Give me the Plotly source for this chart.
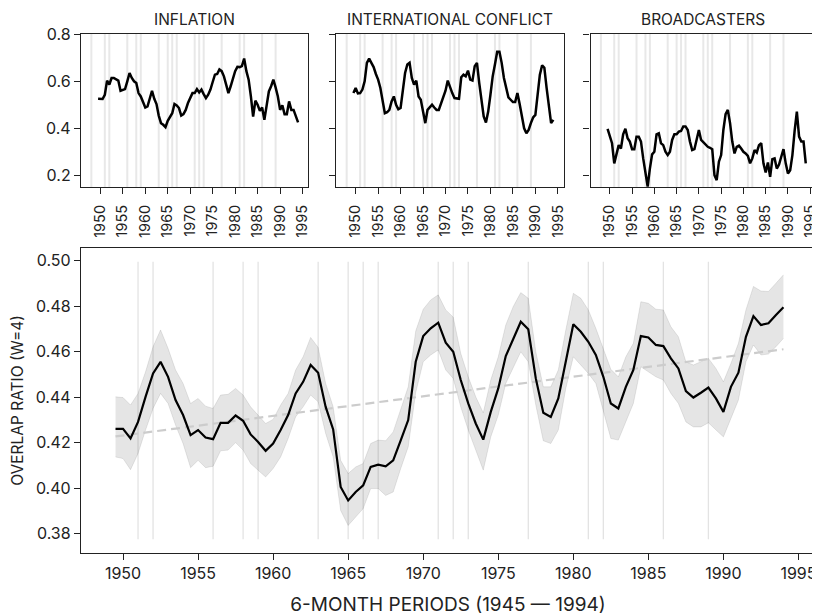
import numpy as np
import plotly.graph_objects as go

# ---------------- data ----------------
periods = [1949.5 + 0.5 * i for i in range(90)]  # 6-month periods

overlap_mean = [
    0.4260, 0.4260, 0.4218, 0.4291, 0.4401, 0.4504, 0.4555, 0.4489, 0.4387, 0.4321,
    0.4233, 0.4255, 0.4222, 0.4215, 0.4287, 0.4287, 0.4319, 0.4296, 0.4236, 0.4203,
    0.4164, 0.4196, 0.4255, 0.4321, 0.4416, 0.4467, 0.4541, 0.4507, 0.4357, 0.4258,
    0.4005, 0.3946, 0.3983, 0.4012, 0.4093, 0.4103, 0.4096, 0.4122, 0.4210, 0.4299,
    0.4555, 0.4668, 0.4702, 0.4727, 0.4639, 0.4599, 0.4475, 0.4372, 0.4284, 0.4213,
    0.4335, 0.4438, 0.4580, 0.4658, 0.4731, 0.4698, 0.4482, 0.4331, 0.4313, 0.4394,
    0.4563, 0.4720, 0.4687, 0.4643, 0.4585, 0.4489, 0.4372, 0.4350, 0.4445, 0.4519,
    0.4668, 0.4662, 0.4629, 0.4624, 0.4570, 0.4526, 0.4426, 0.4398, 0.4419, 0.4442,
    0.4394, 0.4335, 0.4445, 0.4507, 0.4665, 0.4756, 0.4717, 0.4724, 0.4761, 0.4795,
]
overlap_upper = [
    0.4401, 0.4398, 0.4365, 0.4416, 0.4511, 0.4621, 0.4695, 0.4614, 0.4519, 0.4460,
    0.4372, 0.4394, 0.4360, 0.4350, 0.4409, 0.4412, 0.4438, 0.4409, 0.4357, 0.4321,
    0.4284, 0.4302, 0.4365, 0.4416, 0.4519, 0.4577, 0.4662, 0.4618, 0.4460, 0.4357,
    0.4122, 0.4064, 0.4093, 0.4108, 0.4196, 0.4211, 0.4208, 0.4247, 0.4343, 0.4445,
    0.4690, 0.4786, 0.4827, 0.4849, 0.4783, 0.4751, 0.4592, 0.4489, 0.4401, 0.4331,
    0.4475, 0.4577, 0.4717, 0.4798, 0.4859, 0.4834, 0.4599, 0.4445, 0.4445, 0.4519,
    0.4695, 0.4856, 0.4834, 0.4783, 0.4702, 0.4607, 0.4522, 0.4489, 0.4577, 0.4636,
    0.4819, 0.4812, 0.4786, 0.4783, 0.4709, 0.4665, 0.4555, 0.4541, 0.4555, 0.4570,
    0.4526, 0.4467, 0.4548, 0.4636, 0.4783, 0.4886, 0.4866, 0.4864, 0.4900, 0.4937,
]
overlap_lower = [
    0.4137, 0.4130, 0.4081, 0.4152, 0.4255, 0.4350, 0.4416, 0.4372, 0.4277, 0.4196,
    0.4090, 0.4122, 0.4090, 0.4096, 0.4164, 0.4167, 0.4200, 0.4167, 0.4108, 0.4079,
    0.4049, 0.4086, 0.4137, 0.4218, 0.4313, 0.4357, 0.4409, 0.4379, 0.4240, 0.4137,
    0.3902, 0.3836, 0.3873, 0.3910, 0.3998, 0.3998, 0.3968, 0.3983, 0.4086, 0.4181,
    0.4420, 0.4555, 0.4585, 0.4607, 0.4519, 0.4482, 0.4357, 0.4255, 0.4167, 0.4079,
    0.4225, 0.4321, 0.4460, 0.4533, 0.4599, 0.4555, 0.4365, 0.4208, 0.4196, 0.4255,
    0.4438, 0.4577, 0.4541, 0.4504, 0.4460, 0.4343, 0.4218, 0.4211, 0.4291, 0.4372,
    0.4533, 0.4511, 0.4489, 0.4475, 0.4416, 0.4372, 0.4291, 0.4269, 0.4269, 0.4287,
    0.4258, 0.4225, 0.4306, 0.4387, 0.4555, 0.4629, 0.4585, 0.4589, 0.4621, 0.4658,
]
trend_years = [1949.5, 1994.0]
trend_values = [0.4227, 0.4610]

inflation = [
    0.526, 0.526, 0.525, 0.543, 0.603, 0.586, 0.614, 0.614, 0.607, 0.603,
    0.560, 0.565, 0.567, 0.600, 0.635, 0.614, 0.600, 0.593, 0.550, 0.536,
    0.512, 0.489, 0.494, 0.526, 0.560, 0.526, 0.504, 0.455, 0.423, 0.416,
    0.406, 0.433, 0.451, 0.465, 0.504, 0.498, 0.487, 0.455, 0.461, 0.479,
    0.508, 0.529, 0.550, 0.550, 0.567, 0.553, 0.565, 0.546, 0.529, 0.543,
    0.565, 0.597, 0.628, 0.631, 0.650, 0.643, 0.621, 0.586, 0.550, 0.579,
    0.614, 0.643, 0.661, 0.660, 0.664, 0.696, 0.643, 0.607, 0.536, 0.451,
    0.518, 0.501, 0.475, 0.489, 0.437, 0.494, 0.557, 0.579, 0.607, 0.574,
    0.536, 0.479, 0.498, 0.461, 0.461, 0.515, 0.479, 0.479, 0.447, 0.426,
]
international_conflict = [
    0.550, 0.572, 0.549, 0.550, 0.565, 0.600, 0.678, 0.696, 0.678, 0.660,
    0.631, 0.607, 0.572, 0.515, 0.465, 0.469, 0.479, 0.515, 0.536, 0.501,
    0.482, 0.487, 0.557, 0.635, 0.671, 0.678, 0.614, 0.586, 0.603, 0.536,
    0.522, 0.479, 0.423, 0.479, 0.489, 0.501, 0.489, 0.479, 0.479, 0.504,
    0.529, 0.560, 0.603, 0.574, 0.550, 0.529, 0.526, 0.526, 0.617, 0.628,
    0.621, 0.645, 0.607, 0.603, 0.664, 0.678, 0.593, 0.508, 0.451, 0.426,
    0.472, 0.543, 0.621, 0.671, 0.725, 0.725, 0.678, 0.614, 0.565, 0.532,
    0.522, 0.512, 0.512, 0.550, 0.504, 0.455, 0.401, 0.380, 0.394, 0.423,
    0.447, 0.458, 0.550, 0.628, 0.668, 0.657, 0.572, 0.501, 0.423, 0.437,
]
broadcasters = [
    0.399, 0.373, 0.338, 0.253, 0.288, 0.330, 0.316, 0.376, 0.399, 0.359,
    0.345, 0.313, 0.313, 0.366, 0.366, 0.345, 0.274, 0.203, 0.155, 0.231,
    0.291, 0.302, 0.376, 0.380, 0.338, 0.330, 0.302, 0.288, 0.302, 0.352,
    0.376, 0.376, 0.387, 0.390, 0.409, 0.409, 0.394, 0.345, 0.309, 0.313,
    0.359, 0.394, 0.352, 0.342, 0.330, 0.323, 0.319, 0.313, 0.203, 0.182,
    0.260, 0.288, 0.394, 0.461, 0.479, 0.423, 0.345, 0.295, 0.323, 0.328,
    0.316, 0.302, 0.295, 0.285, 0.253, 0.274, 0.309, 0.299, 0.330, 0.338,
    0.253, 0.214, 0.257, 0.196, 0.271, 0.274, 0.231, 0.248, 0.281, 0.313,
    0.253, 0.210, 0.224, 0.288, 0.390, 0.472, 0.366, 0.345, 0.345, 0.253,
]

panel_titles = ["INFLATION", "INTERNATIONAL CONFLICT", "BROADCASTERS"]
panel_series = [inflation, international_conflict, broadcasters]

event_years = [1948, 1951, 1952, 1956, 1958, 1959, 1963, 1965, 1966, 1967,
               1971, 1972, 1973, 1977, 1981, 1982, 1986, 1989]

year_ticks = list(range(1950, 1996, 5))
top_y_ticks = [0.2, 0.4, 0.6, 0.8]
bottom_y_ticks = [0.38, 0.40, 0.42, 0.44, 0.46, 0.48, 0.50]

# ---------------- figure ----------------
FONT = "Inter, Roboto, 'DejaVu Sans', sans-serif"
INK = "#222222"

fig = go.Figure()

top_domains = [[0.0, 0.3094], [0.3474, 0.6567], [0.6934, 1.0]]
top_ydomain = [0.7052, 1.0]

for i, (title, series) in enumerate(zip(panel_titles, panel_series)):
    n = i + 1
    xa = "x" if n == 1 else f"x{n}"
    ya = "y" if n == 1 else f"y{n}"
    for ev in event_years:
        fig.add_shape(type="line", xref=xa, yref=f"{ya} domain",
                      x0=ev, x1=ev, y0=0, y1=1, layer="below",
                      line=dict(color="#e8e8e8", width=2))
    fig.add_trace(go.Scatter(x=periods, y=series, mode="lines",
                             line=dict(color="black", width=2.5),
                             xaxis=xa, yaxis=ya, showlegend=False,
                             hoverinfo="skip"))
    fig.add_annotation(text=title, xref=f"{xa} domain", yref=f"{ya} domain",
                       x=0.5, y=1, yanchor="bottom", xanchor="center",
                       yshift=3, showarrow=False,
                       font=dict(family=FONT, size=15.5, color=INK))
    axis_common = dict(showline=True, linecolor=INK, linewidth=1.3, mirror=True,
                       ticks="outside", ticklen=6, tickwidth=1.2, tickcolor=INK,
                       showgrid=False, zeroline=False)
    fig.layout[("xaxis" if n == 1 else f"xaxis{n}")] = dict(
        domain=top_domains[i], anchor=ya, range=[1945.7, 1996.3],
        tickvals=year_ticks, tickangle=-90, ticklabelstandoff=5,
        tickfont=dict(family=FONT, size=14.5, color=INK), **axis_common)
    fig.layout[("yaxis" if n == 1 else f"yaxis{n}")] = dict(
        domain=top_ydomain, anchor=xa, range=[0.153, 0.8],
        tickvals=top_y_ticks, tickformat=".1f",
        tickfont=dict(family=FONT, size=16, color=INK),
        showticklabels=(n == 1), **axis_common)

# bottom panel
for ev in event_years:
    if ev >= periods[0]:
        fig.add_shape(type="line", xref="x4", yref="y4",
                      x0=ev, x1=ev, y0=0.3775, y1=0.4995, layer="below",
                      line=dict(color="#e3e3e3", width=1.3))

fig.add_trace(go.Scatter(x=periods, y=overlap_upper, mode="lines",
                         line=dict(color="rgba(0,0,0,0.09)", width=1),
                         xaxis="x4", yaxis="y4", showlegend=False, hoverinfo="skip"))
fig.add_trace(go.Scatter(x=periods, y=overlap_lower, mode="lines",
                         line=dict(color="rgba(0,0,0,0.09)", width=1),
                         fill="tonexty", fillcolor="rgba(0,0,0,0.10)",
                         xaxis="x4", yaxis="y4", showlegend=False, hoverinfo="skip"))
fig.add_trace(go.Scatter(x=trend_years, y=trend_values, mode="lines",
                         line=dict(color="#cccccc", width=2.2, dash="9px,5px"),
                         xaxis="x4", yaxis="y4", showlegend=False, hoverinfo="skip"))
fig.add_trace(go.Scatter(x=periods, y=overlap_mean, mode="lines",
                         line=dict(color="black", width=2.2),
                         xaxis="x4", yaxis="y4", showlegend=False, hoverinfo="skip"))

bottom_common = dict(showline=True, linecolor=INK, linewidth=1.3, mirror=True,
                     ticks="outside", ticklen=6, tickwidth=1.2, tickcolor=INK,
                     showgrid=False, zeroline=False,
                     tickfont=dict(family=FONT, size=16, color=INK))
fig.layout["xaxis4"] = dict(domain=[0.0, 0.9986], anchor="y4", range=[1947.2, 1996.1],
                            tickvals=year_ticks,
                            title=dict(text="6-MONTH PERIODS (1945 — 1994)",
                                       font=dict(family=FONT, size=19, color=INK),
                                       standoff=16),
                            **bottom_common)
fig.layout["yaxis4"] = dict(domain=[0.0, 0.5877], anchor="x4", range=[0.3715, 0.5055],
                            tickvals=bottom_y_ticks, tickformat=".2f",
                            title=dict(text="OVERLAP RATIO (W=4)",
                                       font=dict(family=FONT, size=15.5, color=INK),
                                       standoff=8),
                            **bottom_common)

# page body has an 8px margin: size the figure so the plot lands at the reference positions
fig.update_layout(width=812, height=608,
                  margin=dict(l=73, r=2, t=26, b=63),
                  paper_bgcolor="white", plot_bgcolor="white",
                  font=dict(family=FONT, color=INK))

fig.write_html("out.html")
